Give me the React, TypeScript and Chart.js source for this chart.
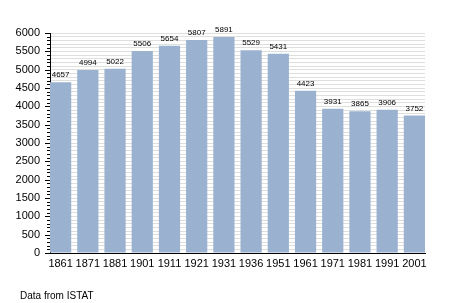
import React, { useEffect, useRef } from "react";
import { Chart, registerables } from "chart.js";

Chart.register(...registerables);

const years = ["1861", "1871", "1881", "1901", "1911", "1921", "1931", "1936", "1951", "1961", "1971", "1981", "1991", "2001"];
const population = [4657, 4994, 5022, 5506, 5654, 5807, 5891, 5529, 5431, 4423, 3931, 3865, 3906, 3752];
const yMax = 6000;
const sourceNote = "Data from ISTAT";

const FONT = "'Liberation Sans', Arial, sans-serif";
const BAR_FRACTION = 0.78;

const tickPlugin = {
  id: "axisTicks",
  afterDraw(chart: any) {
    const ctx = chart.ctx;
    const y = chart.scales.y;
    const x0 = chart.chartArea.left;
    ctx.save();
    ctx.strokeStyle = "#000";
    ctx.lineWidth = 1;
    for (let v = 0; v <= yMax; v += 100) {
      const py = Math.round(y.getPixelForValue(v)) + 0.5;
      const major = v % 500 === 0;
      ctx.beginPath();
      ctx.moveTo(x0 - (major ? 5 : 3), py);
      ctx.lineTo(x0, py);
      ctx.stroke();
    }
    ctx.restore();
  },
};

const labelPlugin = {
  id: "barLabels",
  afterDatasetsDraw(chart: any) {
    const ctx = chart.ctx;
    const meta = chart.getDatasetMeta(0);
    ctx.save();
    ctx.font = `8px ${FONT}`;
    ctx.fillStyle = "#000";
    ctx.textAlign = "center";
    ctx.textBaseline = "bottom";
    meta.data.forEach((bar: any, i: number) => {
      ctx.fillText(String(population[i]), bar.x, bar.y - 3);
    });
    ctx.restore();
  },
};

export default function App() {
  const ref = useRef<HTMLCanvasElement>(null);
  useEffect(() => {
    document.body.style.margin = "0";
    const chart = new Chart(ref.current!, {
      type: "bar",
      data: {
        datasets: [
          {
            data: population.map((v, i) => ({ x: i, y: v })),
            backgroundColor: "#9ab2cf",
            borderWidth: 0,
            barPercentage: BAR_FRACTION,
            categoryPercentage: 1,
          },
        ],
      },
      options: {
        animation: false,
        responsive: false,
        layout: { padding: { left: 0, right: 30, top: 33, bottom: 30 } },
        plugins: { legend: { display: false }, tooltip: { enabled: false } },
        scales: {
          x: {
            type: "linear",
            offset: false,
            min: -BAR_FRACTION / 2,
            max: years.length - 1 + BAR_FRACTION / 2,
            grid: { display: false, drawTicks: false, offset: false },
            border: { color: "#000", width: 1 },
            ticks: {
              stepSize: 1,
              includeBounds: false,
              autoSkip: false,
              maxRotation: 0,
              color: "#000",
              font: { family: FONT, size: 11 },
              padding: 4,
              callback: (v: any) => years[Number(v)] ?? "",
            },
            afterFit(s: any) { s.height = 20; },
          },
          y: {
            min: 0,
            max: yMax,
            grid: { color: "#dedede", drawTicks: false },
            border: { color: "#000", width: 1 },
            ticks: {
              stepSize: 100,
              autoSkip: false,
              color: "#000",
              font: { family: FONT, size: 11 },
              padding: 10,
              callback: (v: any) => (Number(v) % 500 === 0 ? String(v) : ""),
            },
            afterFit(s: any) { s.width = 50; },
          },
        },
      },
      plugins: [tickPlugin, labelPlugin],
    });
    return () => chart.destroy();
  }, []);
  return (
    <div style={{ position: "relative", width: 455, height: 303 }}>
      <canvas ref={ref} width={455} height={303} />
      <div style={{ position: "absolute", left: 20, top: 290, fontFamily: FONT, fontSize: 10, color: "#000", lineHeight: "12px" }}>
        {sourceNote}
      </div>
    </div>
  );
}
